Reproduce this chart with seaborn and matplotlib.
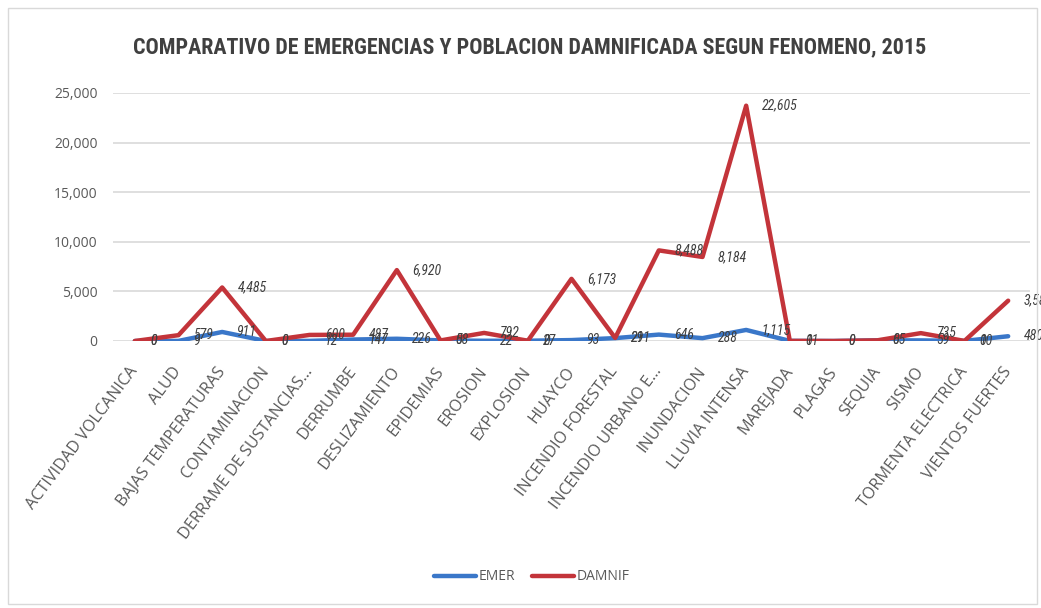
import matplotlib
matplotlib.use("Agg")
import matplotlib.pyplot as plt
import seaborn as sns
import pandas as pd
from matplotlib.ticker import FuncFormatter, MultipleLocator
from matplotlib.patches import Rectangle
from matplotlib import font_manager as fm

categorias = ["ACTIVIDAD VOLCANICA", "ALUD", "BAJAS TEMPERATURAS", "CONTAMINACION",
              "DERRAME DE SUSTANCIAS...", "DERRUMBE", "DESLIZAMIENTO", "EPIDEMIAS",
              "EROSION", "EXPLOSION", "HUAYCO", "INCENDIO FORESTAL", "INCENDIO URBANO E...",
              "INUNDACION", "LLUVIA INTENSA", "MAREJADA", "PLAGAS", "SEQUIA", "SISMO",
              "TORMENTA ELECTRICA", "VIENTOS FUERTES"]
emer = [0, 9, 911, 0, 12, 147, 226, 58, 22, 27, 93, 291, 646, 288, 1115, 11, 0, 65, 59, 10, 480]
damnif = [0, 579, 4485, 0, 600, 487, 6920, 0, 792, 0, 6173, 21, 8488, 8184, 22605, 0, 0, 0, 735, 0, 3584]
titulo = "COMPARATIVO DE EMERGENCIAS Y POBLACION DAMNIFICADA SEGUN FENOMENO, 2015"

BLUE = "#3A77C9"
RED = "#C3343A"
GREY = "#595959"
DARK = "#404040"

sns.set_theme(style="white")
plt.rcParams["font.family"] = ["Open Sans", "DejaVu Sans"]

names = {f.name for f in fm.fontManager.ttflist}
narrow = None
for cand in ["Liberation Sans Narrow", "Arial Narrow", "Roboto Condensed", "DejaVu Sans Condensed"]:
    if cand in names:
        narrow = cand
        break
condensed_dejavu = any(f.name == "DejaVu Sans" and f.stretch == "condensed" for f in fm.fontManager.ttflist)

if narrow:
    title_font = dict(family=[narrow], fontweight="bold", fontsize=15.8)
    lab_font = dict(family=[narrow], style="italic", fontsize=10)
elif condensed_dejavu:
    title_font = dict(family=["DejaVu Sans"], fontstretch="condensed", fontweight="bold", fontsize=14)
    lab_font = dict(family=["DejaVu Sans"], fontstretch="condensed", style="italic", fontsize=8.5)
else:
    title_font = dict(family=["Roboto", "DejaVu Sans"], fontweight="bold", fontsize=13.5)
    lab_font = dict(family=["Roboto", "DejaVu Sans"], style="italic", fontsize=8.5)

df = pd.DataFrame({"cat": categorias, "EMER": emer, "DAMNIF": damnif})
df["ACUM"] = df["EMER"] + df["DAMNIF"]

W, H = 1041, 608
fig = plt.figure(figsize=(W / 100, H / 100), dpi=100)
fig.patch.set_facecolor("white")
ax = fig.add_axes([113 / W, 1 - 341 / H, (1030 - 113) / W, (341 - 93) / H])

sns.lineplot(data=df, x="cat", y="EMER", sort=False, color=BLUE, lw=3.2,
             label="EMER", ax=ax, zorder=3)
sns.lineplot(data=df, x="cat", y="ACUM", sort=False, color=RED, lw=3.2,
             label="DAMNIF", ax=ax, zorder=4)

for i, row in df.iterrows():
    ax.annotate(f"{row['EMER']:,}", (i, row["EMER"]), xytext=(11, 0),
                textcoords="offset points", ha="left", va="center", zorder=6,
                annotation_clip=False, color=DARK, **lab_font)
    ax.annotate(f"{row['DAMNIF']:,}", (i, row["ACUM"]), xytext=(11, 0),
                textcoords="offset points", ha="left", va="center", zorder=6,
                annotation_clip=False, color=DARK, **lab_font)

ax.set_xlim(-0.5, len(categorias) - 0.5)
ax.set_ylim(0, 25000)
ax.yaxis.set_major_locator(MultipleLocator(5000))
ax.yaxis.set_major_formatter(FuncFormatter(lambda v, p: f"{int(v):,}"))
ax.yaxis.grid(True, color="#D9D9D9", lw=1.2)
ax.xaxis.grid(False)
for s in ax.spines.values():
    s.set_visible(False)
ax.set_xlabel("")
ax.set_ylabel("")
ax.tick_params(axis="y", length=0, pad=11, labelsize=10, labelcolor=GREY)
ax.tick_params(axis="x", length=0, pad=20, labelsize=11.6, labelcolor=GREY)
ax.set_xticks(range(len(categorias)))
ax.set_xticklabels(categorias, rotation=53, ha="right", va="center",
                   rotation_mode="anchor")

fig.text(530 / W, 1 - 47 / H, titulo, ha="center", va="center",
         color=DARK, **title_font)

leg = ax.legend(loc="center", bbox_to_anchor=(532 / W, 1 - 577 / H),
                bbox_transform=fig.transFigure, ncol=2, frameon=False,
                handlelength=3.0, handletextpad=0.2, columnspacing=1.2,
                fontsize=10)
for t in leg.get_texts():
    t.set_color(GREY)
for h in leg.get_lines():
    h.set_linewidth(3.2)

fig.patches.append(Rectangle((8 / W, 4 / H), (W - 12) / W, (H - 12) / H,
                             transform=fig.transFigure, fill=False,
                             edgecolor="#D9D9D9", lw=1))

fig.savefig("out.png", dpi=100, facecolor="white")
